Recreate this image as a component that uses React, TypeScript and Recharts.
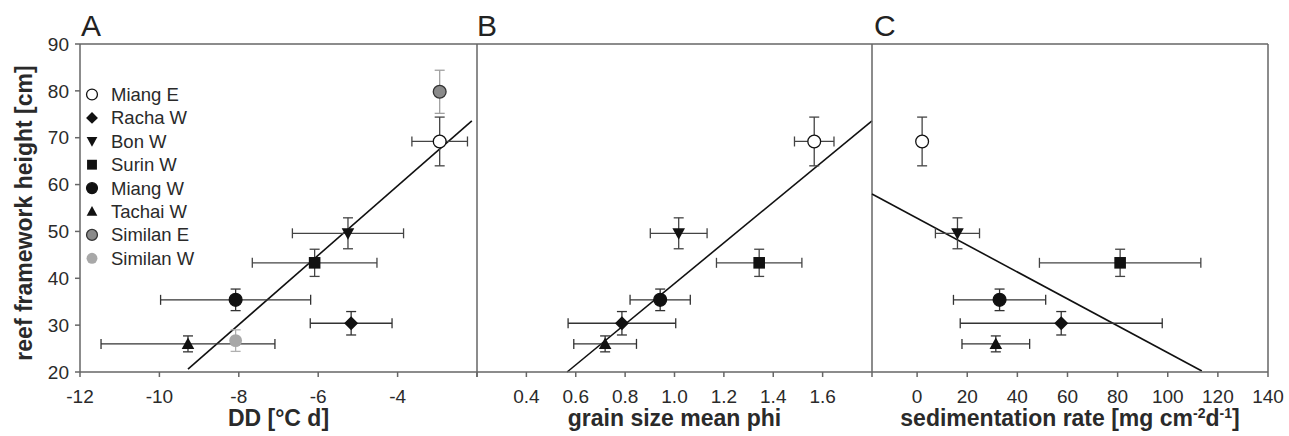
import React from 'react'
import { ScatterChart, Scatter, XAxis, YAxis, ErrorBar, ReferenceLine } from 'recharts'

// ─── Data ───────────────────────────────────────────────────────────
const SITES = ['Miang E', 'Racha W', 'Bon W', 'Surin W', 'Miang W', 'Tachai W', 'Similan E', 'Similan W']
const HEIGHT_CM = [69.2, 30.4, 49.6, 43.3, 35.4, 26.0, 79.8, 26.7]
const HEIGHT_ERR = [5.2, 2.5, 3.3, 2.9, 2.3, 1.7, 4.6, 2.3]

const DD = [-2.94, -5.17, -5.25, -6.09, -8.08, -9.28, -2.94, -8.08]
const DD_ERR = [0.7, 1.03, 1.4, 1.57, 1.89, 2.19, 0, 0]

// no grain size / sedimentation values for the Similan sites
const PHI = [1.566, 0.787, 1.017, 1.343, 0.942, 0.719, null, null]
const PHI_ERR = [0.08, 0.218, 0.115, 0.173, 0.122, 0.127, null, null]
const SED = [2.0, 57.5, 16.1, 81.0, 32.9, 31.4, null, null]
const SED_ERR = [0, 40.3, 8.8, 32.2, 18.4, 13.5, null, null]

const HEIGHT_TICKS = [20, 30, 40, 50, 60, 70, 80, 90]
const DD_TICKS = [-12, -10, -8, -6, -4, -2]
const PHI_TICKS = [0.2, 0.4, 0.6, 0.8, 1.0, 1.2, 1.4, 1.6, 1.8]
const SED_TICKS = [0, 20, 40, 60, 80, 100, 120, 140]

// regression line end points
const DD_FIT = [{ x: -9.28, y: 20.6 }, { x: -2.13, y: 73.6 }]
const PHI_FIT = [{ x: 0.565, y: 20 }, { x: 1.8, y: 73.6 }]
const SED_FIT = [{ x: -18, y: 58.0 }, { x: 113.6, y: 20.2 }]

// ─── Styling ────────────────────────────────────────────────────────
const FONT = '"Liberation Sans", Arial, sans-serif'
const AXIS = '#666'
const TEXT = '#2a2a2a'

type Kind = 'circle' | 'diamond' | 'down' | 'square' | 'up'
const KIND: Kind[] = ['circle', 'diamond', 'down', 'square', 'circle', 'up', 'circle', 'circle']
const FILL = ['#fff', '#111', '#111', '#111', '#111', '#111', '#8a8a8a', '#a8a8a8']
const STROKE = ['#111', '#111', '#111', '#111', '#111', '#111', '#333', 'none']
const BAR = ['#444', '#333', '#444', '#444', '#333', '#333', '#a0a0a0', '#b0b0b0']

function Marker({ i, cx, cy, s = 1 }: { i: number; cx: number; cy: number; s?: number }) {
  const fill = FILL[i]
  const stroke = STROKE[i]
  const sw = 1.3
  switch (KIND[i]) {
    case 'circle':
      return <circle cx={cx} cy={cy} r={6.4 * s} fill={fill} stroke={stroke} strokeWidth={sw} />
    case 'diamond': {
      const d = 7 * s
      return <polygon points={`${cx},${cy - d} ${cx + d},${cy} ${cx},${cy + d} ${cx - d},${cy}`} fill={fill} />
    }
    case 'square': {
      const h = 5.8 * s
      return <rect x={cx - h} y={cy - h} width={2 * h} height={2 * h} fill={fill} />
    }
    case 'up': {
      const w = 6.3 * s
      return <polygon points={`${cx},${cy - 6.5 * s} ${cx + w},${cy + 5 * s} ${cx - w},${cy + 5 * s}`} fill={fill} />
    }
    case 'down': {
      const w = 6.3 * s
      return <polygon points={`${cx},${cy + 6.5 * s} ${cx + w},${cy - 5 * s} ${cx - w},${cy - 5 * s}`} fill={fill} />
    }
  }
  return null
}

const tickStyle = { fontSize: 19, fill: TEXT, fontFamily: FONT }
const titleStyle = { fontSize: 23, fontWeight: 700, fill: TEXT, fontFamily: FONT }

function XTitle({ text, children }: { text?: string; children?: React.ReactNode }) {
  return (p: any) => {
    const vb = p.viewBox ?? p
    return (
      <text x={vb.x + vb.width / 2} y={vb.y + 54} textAnchor="middle" style={titleStyle}>
        {children ?? text}
      </text>
    )
  }
}

// ─── One panel ──────────────────────────────────────────────────────
type PanelProps = {
  left: number
  width: number
  ml: number
  mr: number
  xs: (number | null)[]
  xErr: (number | null)[]
  domain: [number, number]
  ticks: number[]
  fmt: (v: number) => string
  fit: { x: number; y: number }[]
  title: (p: any) => React.ReactNode
  first?: boolean
  last?: boolean
}

function Panel({ left, width, ml, mr, xs, xErr, domain, ticks, fmt, fit, title, first, last }: PanelProps) {
  const rows = SITES.map((name, i) => ({ i, name, x: xs[i], y: HEIGHT_CM[i], xe: xErr[i] ?? 0, ye: HEIGHT_ERR[i] }))
    .filter(r => r.x != null)

  return (
    <div style={{ position: 'absolute', left, top: 0 }}>
      <ScatterChart width={width} height={436} margin={{ top: 44, right: mr, bottom: 0, left: ml }}>
        <XAxis
          xAxisId="b"
          type="number"
          dataKey="x"
          domain={domain}
          ticks={ticks}
          interval={0}
          allowDataOverflow
          tickFormatter={fmt}
          height={64}
          tickSize={5}
          tickMargin={13}
          stroke={AXIS}
          strokeWidth={1.5}
          tick={tickStyle}
          label={title}
        />
        <YAxis
          yAxisId="l"
          type="number"
          dataKey="y"
          domain={[20, 90]}
          ticks={HEIGHT_TICKS}
          interval={0}
          allowDataOverflow
          hide={!first}
          width={80}
          tickSize={5}
          tickMargin={6}
          stroke={AXIS}
          strokeWidth={1.5}
          tick={tickStyle}
          label={(p: any) => {
            const vb = p.viewBox ?? p
            const cx = vb.x + 24
            const cy = vb.y + vb.height / 2 + 5
            return (
              <text x={cx} y={cy} transform={`rotate(-90 ${cx} ${cy})`} textAnchor="middle" dominantBaseline="central" style={titleStyle}>
                reef framework height [cm]
              </text>
            )
          }}
        />
        <YAxis
          yAxisId="r"
          orientation="right"
          mirror
          type="number"
          domain={[20, 90]}
          ticks={HEIGHT_TICKS}
          interval={0}
          allowDataOverflow
          tick={false}
          tickLine={!last}
          tickSize={5}
          stroke={AXIS}
          strokeWidth={1.5}
        />
        {/* frame top edge */}
        <ReferenceLine xAxisId="b" yAxisId="l" y={90} stroke={AXIS} strokeWidth={1.5} ifOverflow="visible" />
        <ReferenceLine xAxisId="b" yAxisId="l" segment={fit} stroke="#111" strokeWidth={1.6} ifOverflow="visible" />
        {rows.map(r => (
          <Scatter
            key={r.name}
            name={r.name}
            xAxisId="b"
            yAxisId="l"
            data={[r]}
            isAnimationActive={false}
            shape={(p: any) => <Marker i={r.i} cx={p.cx} cy={p.cy} />}
          >
            <ErrorBar dataKey="ye" direction="y" width={5} stroke={BAR[r.i]} strokeWidth={1.3} isAnimationActive={false} />
            {r.xe > 0 && (
              <ErrorBar dataKey="xe" direction="x" width={5} stroke={BAR[r.i]} strokeWidth={1.3} isAnimationActive={false} />
            )}
          </Scatter>
        ))}
      </ScatterChart>
    </div>
  )
}

function Overlay() {
  return (
    <svg width={1289} height={436} style={{ position: 'absolute', left: 0, top: 0, pointerEvents: 'none' }}>
      <g style={{ fontFamily: FONT, fontSize: 30, fill: '#222' }}>
        <text x={81} y={36}>A</text>
        <text x={477} y={36}>B</text>
        <text x={874} y={36}>C</text>
      </g>
      <g style={{ fontFamily: FONT, fontSize: 18.5, fill: TEXT }}>
        {SITES.map((name, i) => {
          const y = 94.5 + i * 23.4
          return (
            <g key={name}>
              <Marker i={i} cx={92} cy={y} s={0.85} />
              <text x={111} y={y} dominantBaseline="central">{name}</text>
            </g>
          )
        })}
      </g>
    </svg>
  )
}

export default function App() {
  return (
    <div style={{ position: 'absolute', left: 0, top: 0, width: 1289, height: 436, background: '#fff', fontFamily: FONT }}>
      <Panel
        left={0}
        width={480}
        ml={0}
        mr={3}
        xs={DD}
        xErr={DD_ERR}
        domain={[-12, -2]}
        ticks={DD_TICKS}
        fmt={v => (v === -2 ? '' : String(v))}
        fit={DD_FIT}
        title={XTitle({ text: 'DD [°C d]' })}
        first
      />
      <Panel
        left={467}
        width={410}
        ml={10}
        mr={5}
        xs={PHI}
        xErr={PHI_ERR}
        domain={[0.2, 1.8]}
        ticks={PHI_TICKS}
        fmt={v => (v < 0.3 || v > 1.7 ? '' : v.toFixed(1))}
        fit={PHI_FIT}
        title={XTitle({ text: 'grain size mean phi' })}
      />
      <Panel
        left={862}
        width={427}
        ml={10}
        mr={21}
        xs={SED}
        xErr={SED_ERR}
        domain={[-18, 140]}
        ticks={SED_TICKS}
        fmt={v => String(v)}
        fit={SED_FIT}
        title={XTitle({
          children: (
            <>
              <tspan>sedimentation rate [mg cm</tspan>
              <tspan dy={-8} fontSize={14}>-2</tspan>
              <tspan dy={8}>d</tspan>
              <tspan dy={-8} fontSize={14}>-1</tspan>
              <tspan dy={8}>]</tspan>
            </>
          ),
        })}
        last
      />
      <Overlay />
    </div>
  )
}
